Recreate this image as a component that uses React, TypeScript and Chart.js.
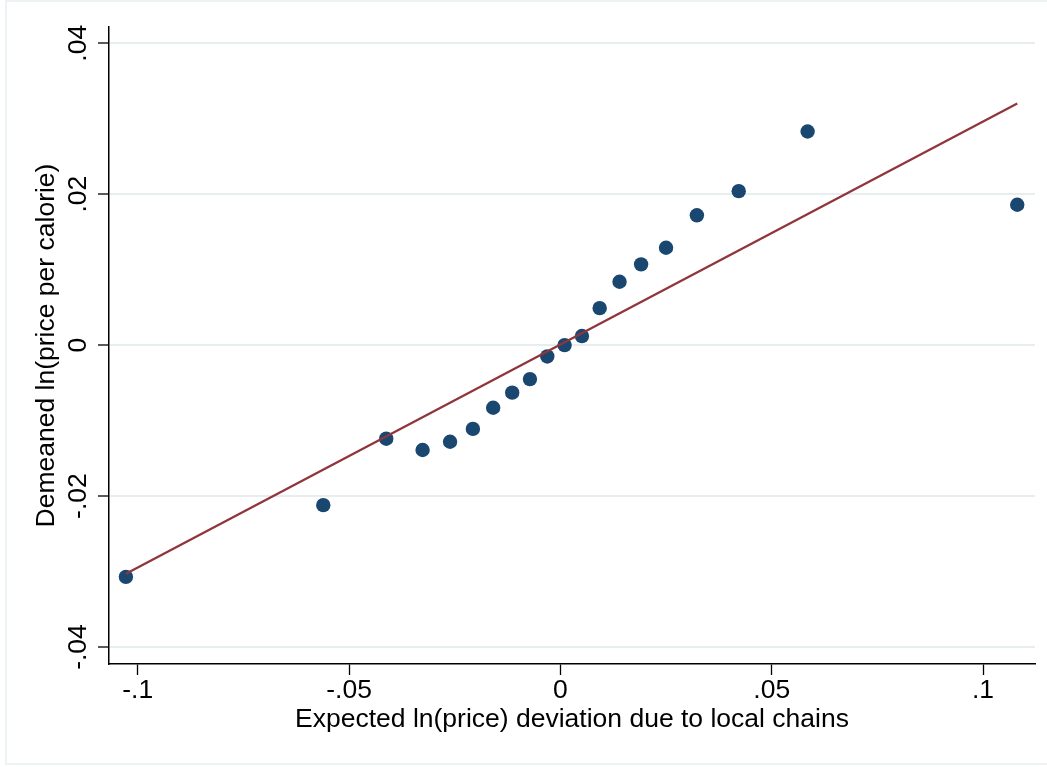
import React, { useEffect, useRef } from "react";
import { Chart, registerables } from "chart.js";

Chart.register(...registerables);

// Binned scatter points
const binX = [
  -0.1028, -0.0561, -0.0412, -0.0326, -0.0261, -0.0207, -0.0159, -0.0114, -0.0072, -0.0031,
  0.001, 0.0051, 0.0093, 0.014, 0.0191, 0.025, 0.0323, 0.0422, 0.0585, 0.1081,
];
const binY = [
  -0.0307, -0.0212, -0.0124, -0.0139, -0.0128, -0.0111, -0.0083, -0.0063, -0.0045, -0.0015,
  0.0, 0.0012, 0.0049, 0.0084, 0.0107, 0.0129, 0.0172, 0.0204, 0.0283, 0.0186,
];

// Linear fit endpoints
const fitX = [-0.1028, 0.1081];
const fitY = [-0.0303, 0.032];

const xTickValues = [-0.1, -0.05, 0, 0.05, 0.1];
const xTickLabels = ["-.1", "-.05", "0", ".05", ".1"];
const yTickValues = [-0.04, -0.02, 0, 0.02, 0.04];
const yTickLabels = ["-.04", "-.02", "0", ".02", ".04"];

const xTitle = "Expected ln(price) deviation due to local chains";
const yTitle = "Demeaned ln(price per calorie)";

const FONT = "'Liberation Sans', Arial, Helvetica, sans-serif";
const FONT_SIZE = 26.5;
const MARKER = "#1a476f";
const FITLINE = "#90353b";
const GRID = "#e6eef0";

export default function App() {
  const ref = useRef<HTMLCanvasElement | null>(null);

  useEffect(() => {
    if (!ref.current) return;
    const chart = new Chart(ref.current, {
      type: "scatter",
      data: {
        datasets: [
          {
            type: "line",
            data: fitX.map((x, i) => ({ x, y: fitY[i] })),
            borderColor: FITLINE,
            borderWidth: 2.3,
            pointRadius: 0,
            fill: false,
            tension: 0,
          } as any,
          {
            type: "scatter",
            data: binX.map((x, i) => ({ x, y: binY[i] })),
            backgroundColor: MARKER,
            borderWidth: 0,
            pointRadius: 7.2,
          },
        ],
      },
      options: {
        animation: false,
        responsive: false,
        devicePixelRatio: 1,
        layout: { padding: { top: 27, right: 12, left: 0, bottom: 0 } },
        plugins: {
          legend: { display: false },
          tooltip: { enabled: false },
        },
        scales: {
          x: {
            type: "linear",
            min: -0.1068,
            max: 0.1123,
            afterFit: (s: any) => {
              s.height = 103;
            },
            afterBuildTicks: (s: any) => {
              s.ticks = xTickValues.map((v) => ({ value: v }));
            },
            grid: {
              drawOnChartArea: false,
              drawTicks: true,
              tickLength: 11,
              tickColor: "#000",
              tickWidth: 1.3,
            },
            border: { display: true, color: "#000", width: 1.5 },
            ticks: {
              color: "#000",
              font: { family: FONT, size: FONT_SIZE },
              padding: 0,
              minRotation: 0,
              maxRotation: 0,
              autoSkip: false,
              callback: (_v: any, i: number) => xTickLabels[i],
            },
            title: {
              display: true,
              text: xTitle,
              color: "#000",
              font: { family: FONT, size: FONT_SIZE },
              padding: { top: 0, bottom: 31 },
            },
          },
          y: {
            type: "linear",
            min: -0.04225,
            max: 0.04215,
            afterFit: (s: any) => {
              s.width = 109;
            },
            afterBuildTicks: (s: any) => {
              s.ticks = yTickValues.map((v) => ({ value: v }));
            },
            grid: {
              drawOnChartArea: true,
              color: GRID,
              lineWidth: 2,
              drawTicks: true,
              tickLength: 11,
              tickColor: "#000",
              tickWidth: 1.3,
            },
            border: { display: true, color: "#000", width: 1.5 },
            ticks: {
              color: "#000",
              font: { family: FONT, size: FONT_SIZE },
              padding: -4,
              minRotation: 90,
              maxRotation: 90,
              crossAlign: "center",
              autoSkip: false,
              callback: (_v: any, i: number) => yTickLabels[i],
            },
            title: {
              display: true,
              text: yTitle,
              color: "#000",
              font: { family: FONT, size: FONT_SIZE },
              padding: { top: 31, bottom: 0 },
            },
          },
        },
      } as any,
    });
    return () => chart.destroy();
  }, []);

  return (
    <div
      style={{
        position: "fixed",
        left: 0,
        top: 0,
        width: 1047,
        height: 767,
        overflow: "hidden",
        background: "#ffffff",
      }}
    >
      <div
        style={{
          position: "absolute",
          left: 5,
          top: 0,
          width: 1100,
          height: 765,
          boxSizing: "border-box",
          border: "2px solid #edf3f4",
        }}
      />
      <canvas
        ref={ref}
        width={1047}
        height={767}
        style={{ position: "absolute", left: 0, top: 0, width: 1047, height: 767, display: "block" }}
      />
    </div>
  );
}
